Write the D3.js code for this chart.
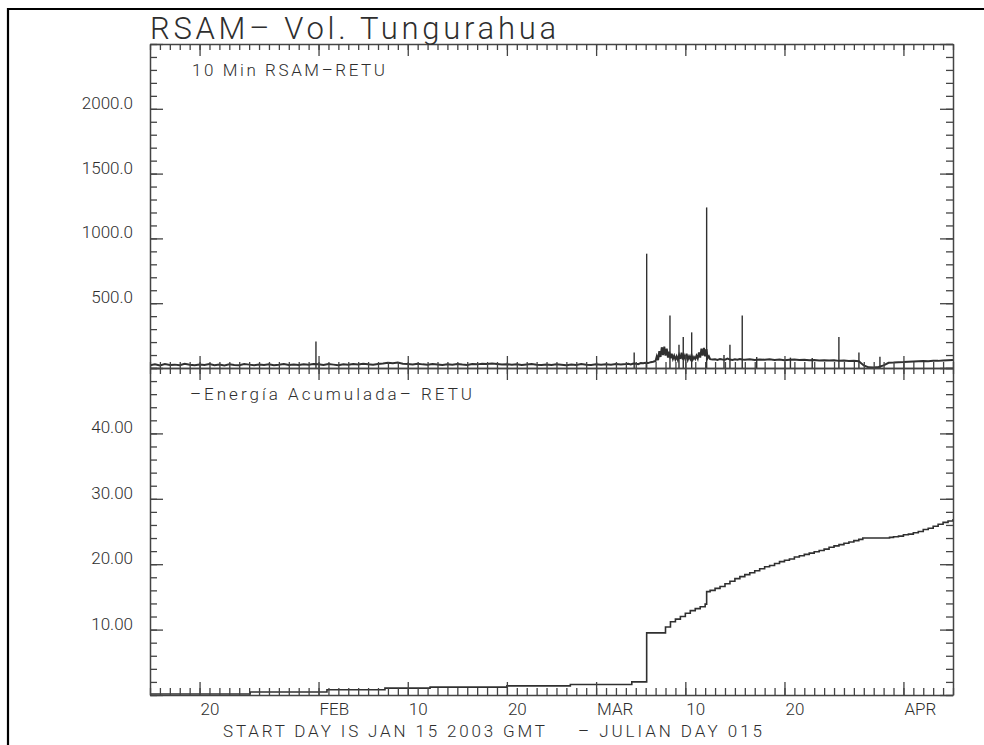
<!DOCTYPE html>
<html>
<head>
<meta charset="utf-8">
<script src="https://cdn.jsdelivr.net/npm/d3@7"></script>
<style>
  html, body { margin: 0; padding: 0; background: #fff; }
  svg { display: block; }
  text { font-family: Roboto, "Liberation Sans", sans-serif; font-weight: 300; fill: #2e2e2e; }
</style>
</head>
<body>
<svg id="chart" width="984" height="745"></svg>
<script>
// ---------------- DATA ----------------
const titleText = "RSAM\u2013 Vol. Tungurahua";
const topPanelLabel = "10 Min RSAM\u2013RETU";
const bottomPanelLabel = "\u2013Energía Acumulada\u2013 RETU";
const footerLeft = "START DAY IS JAN 15 2003 GMT";
const footerRight = "\u2013 JULIAN DAY 015";

const xTickDates = ["2003-01-20","2003-02-01","2003-02-10","2003-02-20","2003-03-01","2003-03-10","2003-03-20","2003-04-01"];
const xTickLabels = ["20","FEB","10","20","MAR","10","20","APR"];

const rsamTicks = [500, 1000, 1500, 2000];
const rsamTickLabels = ["500.0", "1000.0", "1500.0", "2000.0"];
const energyTicks = [10, 20, 30, 40];
const energyTickLabels = ["10.00", "20.00", "30.00", "40.00"];

// 10-min RSAM baseline [julian day, value], Jan 15 - Mar 3
const rsamBaseJanFeb = [
  [15,22],[15.5,28],[16,20],[16.5,30],[17,24],[17.5,26],[18,21],[18.5,32],[19,25],[19.5,22],
  [20,27],[20.5,24],[21,30],[21.5,22],[22,26],[22.5,20],[23,28],[23.5,24],[24,22],[24.5,30],
  [25,26],[25.5,21],[26,27],[26.5,24],[27,29],[27.5,22],[28,25],[28.5,30],[29,23],[29.5,27],
  [30,24],[30.5,28],[31,26],[31.5,30],[32,28],[32.5,24],[33,30],[33.5,26],[34,22],[34.5,28],
  [35,25],[35.5,30],[36,27],[36.5,33],[37,29],[37.5,26],[38,31],[38.5,35],[39,40],[39.5,37],
  [40,42],[40.5,33],[41,30],[41.5,27],[42,32],[42.5,28],[43,25],[43.5,30],[44,27],[44.5,24],
  [45,29],[45.5,26],[46,31],[46.5,27],[47,24],[47.5,30],[48,28],[48.5,33],[49,30],[49.5,35],
  [50,31],[50.5,27],[51,29],[51.5,25],[52,28],[52.5,24],[53,27],[53.5,30],[54,26],[54.5,23],
  [55,27],[55.5,24],[56,28],[56.5,25],[57,22],[57.5,27],[58,24],[58.5,30],[59,26],[59.5,23],
  [60,28],[60.5,25],[61,29],[61.5,26],[62,30],[62.5,27]
];
// 10-min RSAM baseline, Mar 4 - Mar 16 (active period)
const rsamBaseMarch = [
  [63,30],[63.25,33],[63.5,28],[63.75,35],[64,32],[64.25,30],[64.5,38],[64.75,36],
  [65,40],[65.25,38],[65.5,45],[65.75,48],
  [66,55],[66.125,90],[66.25,60],[66.375,130],[66.5,85],[66.625,160],[66.75,100],[66.875,165],
  [67,95],[67.125,150],[67.25,80],[67.375,125],[67.5,75],[67.625,110],[67.75,70],[67.875,95],
  [68,65],[68.125,90],[68.25,62],[68.375,100],[68.5,70],[68.625,118],[68.75,66],[68.875,95],
  [69,68],[69.125,110],[69.25,64],[69.375,90],[69.5,70],[69.625,100],[69.75,66],[69.875,85],
  [70,70],[70.125,95],[70.25,72],[70.375,120],[70.5,80],[70.625,150],[70.75,95],[70.875,155],
  [71,90],[71.125,145],[71.25,75],[71.375,90],[71.5,68],
  [71.75,65],[72,68],[72.25,62],[72.5,70],[72.75,66],
  [73,64],[73.25,72],[73.5,65],[73.75,62],[74,68],[74.25,64],[74.5,70],[74.75,66]
];
// 10-min RSAM baseline, Mar 16 - Apr 6
const rsamBaseLate = [
  [75,64],[75.5,68],[76,62],[76.5,66],[77,63],[77.5,67],[78,62],[78.5,65],[79,60],[79.5,64],
  [80,66],[80.5,61],[81,63],[81.5,60],[82,62],[82.5,58],[83,60],[83.5,57],[84,59],[84.5,55],
  [85,57],[85.5,54],[86,55],[86.5,52],[87,20],[87.5,5],[88,3],[88.5,8],[89,20],[89.5,40],
  [90,42],[90.5,45],[91,46],[91.5,48],[92,50],[92.5,52],[93,54],[93.5,53],[94,56],[94.5,55],
  [95,58],[95.5,60],[96,62]
];
// isolated RSAM spikes [julian day, peak]
const rsamSpikes = [
  [31.74,205],[63.84,120],[65.10,882],[67.45,406],[68.36,180],[68.79,239],[69.64,275],
  [71.15,1239],[72.9,100],[73.50,180],[74.74,406],[76.2,85],[79.6,80],[81.8,78],
  [84.49,239],[86.51,120],[88.63,87]
];
// cumulative energy [julian day, value] (step after)
const energySteps = [
  [15,0.15],[25.1,0.45],[32.85,0.8],[38.7,1.05],[43.25,1.2],[51.0,1.4],[57.4,1.6],[63.6,2.0],
  [65.1,9.5],[66.5,9.5],[67,10.4],[67.5,11.2],[68,11.6],[68.5,12.0],[69,12.5],[69.5,12.9],
  [70,13.2],[70.5,13.5],[71,13.9],[71.15,15.8],[71.5,16.0],[72,16.3],[72.5,16.6],[73,17.0],
  [73.5,17.4],[74,17.8],[74.5,18.1],[75,18.4],[75.5,18.7],[76,19.0],[76.5,19.3],[77,19.6],
  [77.5,19.8],[78,20.1],[78.5,20.4],[79,20.6],[79.5,20.8],[80,21.1],[80.5,21.3],[81,21.5],
  [81.5,21.7],[82,21.9],[82.5,22.1],[83,22.3],[83.5,22.6],[84,22.8],[84.5,23.0],[85,23.2],
  [85.5,23.4],[86,23.6],[86.5,23.8],[86.9,24.0],[89.6,24.1],[90,24.2],[90.5,24.3],[91,24.5],
  [91.5,24.6],[92,24.8],[92.5,25.0],[93,25.3],[93.5,25.5],[94,25.8],[94.5,26.1],[95,26.4],
  [95.5,26.6],[96,26.9]
];
const startJD = 15, endJD = 96;
const rsamMax = 2500, energyMax = 50;

// ---------------- LAYOUT ----------------
const L = 150, R = 953, T = 44, M = 368, B = 695;
const svg = d3.select("#chart");
const axisColor = "#444", lineColor = "#303030";

const jdToDate = jd => new Date(Date.UTC(2003, 0, 1) + (jd - 1) * 864e5);
const x = d3.scaleUtc().domain([jdToDate(startJD), jdToDate(endJD)]).range([L, R]);
const yTop = d3.scaleLinear().domain([0, rsamMax]).range([M, T]);
const yBot = d3.scaleLinear().domain([0, energyMax]).range([B, M]);

// outer frame
svg.append("path").attr("d", `M8,745 V9 H984`).attr("fill", "none")
  .attr("stroke", "#000").attr("stroke-width", 2.2);

// clip
svg.append("clipPath").attr("id", "clipTop").append("rect")
  .attr("x", L).attr("y", T).attr("width", R - L).attr("height", M - T);
svg.append("clipPath").attr("id", "clipBot").append("rect")
  .attr("x", L).attr("y", M).attr("width", R - L).attr("height", B - M);

// data: top panel
const rsamSeries = rsamBaseJanFeb.concat(rsamBaseMarch, rsamBaseLate);
const gTop = svg.append("g").attr("clip-path", "url(#clipTop)");
gTop.selectAll("line.spike").data(rsamSpikes).join("line")
  .attr("x1", d => x(jdToDate(d[0]))).attr("x2", d => x(jdToDate(d[0])))
  .attr("y1", yTop(0)).attr("y2", d => yTop(d[1]))
  .attr("stroke", lineColor).attr("stroke-width", 1.4);
gTop.append("path").datum(rsamSeries)
  .attr("d", d3.line().x(d => x(jdToDate(d[0]))).y(d => yTop(d[1])))
  .attr("fill", "none").attr("stroke", lineColor).attr("stroke-width", 2);

// data: bottom panel
const gBot = svg.append("g").attr("clip-path", "url(#clipBot)");
gBot.append("path").datum(energySteps)
  .attr("d", d3.line().curve(d3.curveStepAfter).x(d => x(jdToDate(d[0]))).y(d => yBot(d[1])))
  .attr("fill", "none").attr("stroke", lineColor).attr("stroke-width", 1.6);

// ---------------- AXES ----------------
const dayTicks = d3.utcDay.range(jdToDate(startJD), new Date(+jdToDate(endJD) + 1));
const majorDates = xTickDates.map(s => new Date(s + "T00:00:00Z"));

function styleAxis(g, showDomain) {
  g.selectAll("line").attr("stroke", axisColor).attr("stroke-width", 1.3);
  g.select(".domain").attr("stroke", showDomain ? axisColor : "none").attr("stroke-width", 1.5);
  g.selectAll("text").remove();
}
function xAxes(gen, yPos, minor, major) {
  const gm = svg.append("g").attr("transform", `translate(0,${yPos})`)
    .call(gen(x).tickValues(dayTicks).tickSize(minor).tickSizeOuter(0).tickFormat(""));
  styleAxis(gm, true);
  const gM = svg.append("g").attr("transform", `translate(0,${yPos})`)
    .call(gen(x).tickValues(majorDates).tickSize(major).tickSizeOuter(0).tickFormat(""));
  styleAxis(gM, false);
}
xAxes(d3.axisBottom, T, 6, 12);
xAxes(d3.axisTop, M, 6, 12);
xAxes(d3.axisBottom, M, 6, 12);
xAxes(d3.axisTop, B, 7, 13);

function yAxes(gen, xPos, scale, minorStep, majorStep, max) {
  const minorV = d3.range(0, max + 1e-9, minorStep);
  const majorV = d3.range(0, max + 1e-9, majorStep);
  const gm = svg.append("g").attr("transform", `translate(${xPos},0)`)
    .call(gen(scale).tickValues(minorV).tickSize(7).tickSizeOuter(0).tickFormat(""));
  styleAxis(gm, true);
  const gM = svg.append("g").attr("transform", `translate(${xPos},0)`)
    .call(gen(scale).tickValues(majorV).tickSize(13).tickSizeOuter(0).tickFormat(""));
  styleAxis(gM, false);
}
yAxes(d3.axisRight, L, yTop, 100, 500, rsamMax);
yAxes(d3.axisLeft, R, yTop, 100, 500, rsamMax);
yAxes(d3.axisRight, L, yBot, 2, 10, energyMax);
yAxes(d3.axisLeft, R, yBot, 2, 10, energyMax);

// y labels
svg.selectAll("text.ylt").data(rsamTicks).join("text").attr("class", "ylt")
  .attr("x", 133).attr("y", d => yTop(d)).attr("text-anchor", "end")
  .attr("font-size", 17).text((d, i) => rsamTickLabels[i]);
svg.selectAll("text.ylb").data(energyTicks).join("text").attr("class", "ylb")
  .attr("x", 133).attr("y", d => yBot(d)).attr("text-anchor", "end")
  .attr("font-size", 17).text((d, i) => energyTickLabels[i]);

// x labels
svg.selectAll("text.xl").data(majorDates).join("text").attr("class", "xl")
  .attr("x", d => x(d) + 1).attr("y", 715)
  .attr("font-size", 17).text((d, i) => xTickLabels[i]);

// titles
svg.append("text").attr("x", 150).attr("y", 39).attr("font-size", 31)
  .attr("textLength", 406).attr("lengthAdjust", "spacing").text(titleText);
svg.append("text").attr("x", 192).attr("y", 76).attr("font-size", 17)
  .attr("textLength", 193).attr("lengthAdjust", "spacing").text(topPanelLabel);
svg.append("text").attr("x", 190).attr("y", 400).attr("font-size", 17)
  .attr("textLength", 282).attr("lengthAdjust", "spacing").text(bottomPanelLabel);
svg.append("text").attr("x", 223).attr("y", 737).attr("font-size", 17)
  .attr("textLength", 322).attr("lengthAdjust", "spacing").text(footerLeft);
svg.append("text").attr("x", 578).attr("y", 737).attr("font-size", 17)
  .attr("textLength", 184).attr("lengthAdjust", "spacing").text(footerRight);
</script>
</body>
</html>
